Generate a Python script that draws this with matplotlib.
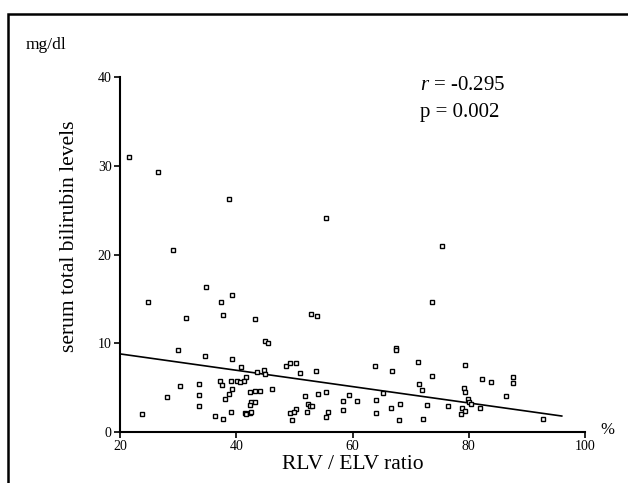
import matplotlib
matplotlib.use("Agg")
import matplotlib.pyplot as plt
from matplotlib.patches import Rectangle

# ratio (%) and serum total bilirubin (mg/dl)
rlv_elv = [21.6, 26.6, 38.8, 55.5, 29.2, 75.4, 34.8, 39.2, 24.8, 37.3,
           73.7, 37.8, 52.9, 53.9, 31.3, 43.2, 45.0, 45.4, 67.5, 67.5,
           29.9, 34.6, 39.2, 48.6, 49.2, 50.3, 40.8, 63.8, 71.2, 79.3,
           53.8, 66.8, 44.8, 45.0, 43.5, 51.0, 73.7, 82.3, 83.9, 87.6,
           87.6, 37.2, 39.1, 40.1, 41.6, 41.4, 40.7, 33.6, 37.6, 30.3,
           39.3, 71.4, 71.9, 79.2, 79.3, 46.1, 42.4, 43.2, 44.1, 65.2,
           55.4, 54.0, 59.4, 28.1, 33.6, 38.7, 51.8, 86.4, 38.0, 58.4,
           60.7, 64.1, 79.9, 80.1, 42.6, 43.3, 52.3, 52.7, 53.0, 68.2,
           72.8, 76.4, 80.4, 81.9, 33.6, 42.3, 66.7, 58.4, 78.8, 79.3,
           50.3, 52.1, 39.1, 41.5, 41.7, 42.3, 42.5, 49.2, 49.9, 55.7,
           64.0, 23.7, 78.6, 36.4, 55.4, 37.8, 49.6, 68.0, 72.2, 92.7]
bilirubin = [31.0, 29.3, 26.3, 24.1, 20.5, 21.0, 16.3, 15.4, 14.6, 14.7,
             14.6, 13.2, 13.3, 13.1, 12.9, 12.7, 10.3, 10.0, 9.5, 9.2,
             9.2, 8.6, 8.2, 7.4, 7.8, 7.8, 7.3, 7.4, 7.9, 7.5,
             6.9, 6.9, 7.0, 6.5, 6.8, 6.6, 6.3, 6.0, 5.6, 6.2,
             5.5, 5.8, 5.8, 5.8, 6.2, 5.8, 5.6, 5.4, 5.3, 5.2,
             4.9, 5.4, 4.7, 5.0, 4.5, 4.9, 4.5, 4.6, 4.6, 4.4,
             4.5, 4.3, 4.2, 4.0, 4.2, 4.3, 4.1, 4.1, 3.7, 3.5,
             3.5, 3.6, 3.7, 3.4, 3.4, 3.4, 3.2, 2.9, 2.9, 3.1,
             3.0, 2.9, 3.1, 2.7, 2.9, 3.0, 2.7, 2.5, 2.7, 2.4,
             2.6, 2.3, 2.2, 2.1, 2.0, 2.1, 2.2, 2.1, 2.2, 2.2,
             2.1, 2.0, 2.0, 1.8, 1.7, 1.5, 1.4, 1.4, 1.5, 1.5]

fit_x = [20, 96]
fit_y = [8.8, 1.8]

x_ticks = [20, 40, 60, 80, 100]
y_ticks = [0, 10, 20, 30, 40]

plt.rcParams['font.family'] = ['Liberation Serif', 'DejaVu Serif']
plt.rcParams['mathtext.fontset'] = 'custom'
plt.rcParams['mathtext.rm'] = 'Liberation Serif'
plt.rcParams['mathtext.it'] = 'Liberation Serif:italic'

fig = plt.figure(figsize=(6.28, 4.83), dpi=100)
ax = fig.add_axes([120/628, 1 - 432/483, 465/628, 355/483])

ax.plot(rlv_elv, bilirubin, linestyle='none', marker='s', markersize=3.3,
        markerfacecolor='white', markeredgecolor='black', markeredgewidth=1.0,
        clip_on=False, zorder=3)
ax.plot(fit_x, fit_y, color='black', linewidth=1.2, zorder=2)

ax.set_xlim(20, 100)
ax.set_ylim(0, 40)
ax.set_xticks(x_ticks)
ax.set_yticks(y_ticks)
ax.set_xticklabels([str(v) for v in x_ticks], fontsize=10)
ax.set_yticklabels([str(v) for v in y_ticks], fontsize=10)
ax.tick_params(direction='out', length=4, width=1.2, pad=2)
for s in ['top', 'right']:
    ax.spines[s].set_visible(False)
for s in ['left', 'bottom']:
    ax.spines[s].set_linewidth(1.5)

ax.set_xlabel('RLV / ELV ratio', fontsize=15.5, labelpad=1)
ax.set_ylabel('serum total bilirubin levels', fontsize=15.5)
ax.yaxis.set_label_coords(-0.088, 0.55)

fig.text(420/628, 1 - 90/483, r'$\mathit{r}$ = -0.295', fontsize=15,
         va='baseline', ha='left')
fig.text(420/628, 1 - 117/483, 'p = 0.002', fontsize=15, va='baseline', ha='left')
fig.text(26/628, 1 - 45/483, 'mg/dl', fontsize=12.5, va='center', ha='left')
fig.text(600/628, 1 - 430/483, '%', fontsize=12, va='center', ha='left')

fig.patches.append(Rectangle((8/628, -0.1), 1.2, 1 - 14/483 + 0.1,
                             transform=fig.transFigure, fill=False,
                             edgecolor='black', linewidth=1.8))

fig.savefig('out.png', dpi=100)
